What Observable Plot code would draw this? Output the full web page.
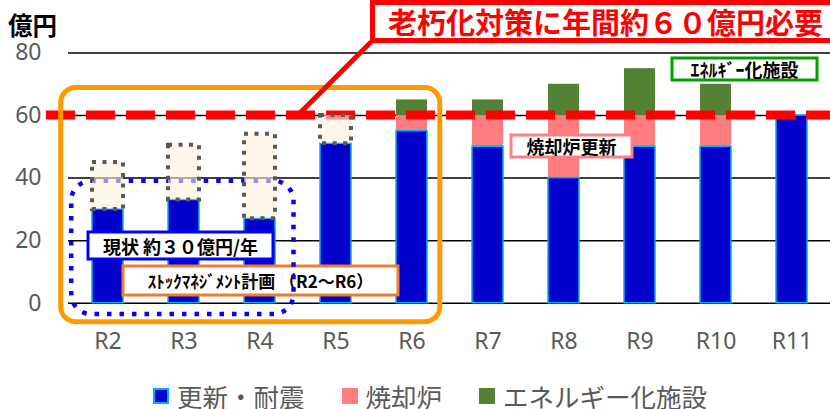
<!DOCTYPE html>
<html><head><meta charset="utf-8">
<script src="https://cdn.jsdelivr.net/npm/d3@7"></script>
<script src="https://cdn.jsdelivr.net/npm/@observablehq/plot@0.6"></script>
<style>
body{margin:0;background:#fff;}
#wrap{position:relative;width:830px;height:409px;overflow:hidden;font-family:"Noto Sans CJK JP","Noto Sans",sans-serif;}
#wrap svg{position:absolute;left:0;top:0;}
#legend{position:absolute;top:383px;left:153px;display:flex;align-items:center;color:#595959;font-size:25.5px;line-height:25px;height:25px;white-space:nowrap;font-family:"Noto Sans CJK JP",sans-serif;}
.item{display:flex;align-items:center;margin-right:37px;}
.sw{width:16px;height:16px;margin-right:8px;box-sizing:border-box;}
</style></head><body><div id="wrap"></div>
<script>
// ---- data ----
const categories = ["R2","R3","R4","R5","R6","R7","R8","R9","R10","R11"];
const renewal     = [30, 33, 27, 51, 55, 50, 40, 50, 50, 60];   // 更新・耐震
const incinerator = [0,  0,  0,  0,  5, 10, 20, 10, 10,  0];    // 焼却炉
const energy      = [0,  0,  0,  0,  5,  5, 10, 15, 10,  0];    // エネルギー化施設
const deferredTop = [45, 50.5, 54, 60, null, null, null, null, null, null]; // dotted boxes
const seriesNames = ["更新・耐震","焼却炉","エネルギー化施設"];
const seriesColors = ["#0000CC","#FF7C80","#548235"];
const yTicks = [0, 20, 40, 60, 80];
const targetLevel = 60;
const yUnit = "億円";
const titleText = "老朽化対策に年間約６０億円必要";
const labelNow = "現状 約３０億円/年";
const labelPlan = "ｽﾄｯｸﾏﾈｼﾞﾒﾝﾄ計画 （R2～R6）";
const labelInc = "焼却炉更新";
const labelEnergy = "ｴﾈﾙｷﾞｰ化施設";

const rows = [];
categories.forEach((c, i) => {
  [renewal, incinerator, energy].forEach((arr, k) => rows.push({cat: c, series: seriesNames[k], value: arr[i]}));
});
const blueRows = categories.map((c, i) => ({cat: c, value: renewal[i]}));
const deferred = categories.map((c, i) => ({cat: c, y1: renewal[i], y2: deferredTop[i]})).filter(d => d.y2 != null);

const chart = Plot.plot({
  width: 830, height: 372,
  marginLeft: 68, marginRight: 0, marginTop: 52, marginBottom: 70,
  style: {fontFamily: '"Noto Sans", sans-serif', fontSize: "23px", color: "#595959", background: "transparent", overflow: "visible"},
  x: {domain: categories, range: [68.1, 831.7], paddingInner: 0.594, paddingOuter: 0.297, label: null},
  y: {domain: [0, 80], range: [302.7, 52.5], label: null},
  color: {domain: seriesNames, range: seriesColors},
  marks: [
    Plot.ruleY(yTicks, {stroke: "#000", strokeWidth: 1.5}),
    Plot.barY(rows, {x: "cat", y: "value", fill: "series"}),
    Plot.barY(blueRows, {x: "cat", y: "value", fill: seriesColors[0], stroke: "#00B0F0", strokeWidth: 1.5}),
    Plot.axisY({ticks: yTicks, tickSize: 0, tickPadding: 27, fontSize: 23, label: null}),
    Plot.axisX({tickSize: 0, tickPadding: 30, fontSize: 23, label: null})
  ]
});
const wrap = document.getElementById("wrap");
wrap.appendChild(chart);

const X = chart.scale("x"), Y = chart.scale("y");
const bw = X.bandwidth;
const svg = d3.select(chart);
const jp = '"Noto Sans CJK JP", sans-serif';

// red dashed target line
svg.append("line").attr("x1", 46).attr("x2", 830)
  .attr("y1", Y.apply(targetLevel)).attr("y2", Y.apply(targetLevel))
  .attr("stroke", "#FF0000").attr("stroke-width", 9).attr("stroke-dasharray", "29 11");

function box(x, y, w, h, stroke, sw, text, fs) {
  const g = svg.append("g");
  g.append("rect").attr("x", x).attr("y", y).attr("width", w).attr("height", h)
    .attr("fill", "#fff").attr("stroke", stroke).attr("stroke-width", sw);
  g.append("text").attr("x", x + w / 2).attr("y", y + h / 2)
    .attr("text-anchor", "middle").attr("dominant-baseline", "central")
    .attr("font-family", jp).attr("font-weight", "bold").attr("font-size", fs)
    .attr("fill", "#000").text(text);
}

// plan label (under blue dotted)
box(123, 266, 275, 29, "#ED7D31", 3, labelPlan, 17);

// orange rounded rect (R2–R6)
const oL = X.apply("R2") - 31.3, oR = X.apply("R6") + bw + 12.8;
svg.append("rect").attr("x", oL).attr("y", Y.apply(targetLevel) - 27.5)
  .attr("width", oR - oL).attr("height", Y.apply(0) + 19 - (Y.apply(targetLevel) - 27.5))
  .attr("rx", 15).attr("fill", "none").attr("stroke", "#FF9900").attr("stroke-width", 5);

// blue dotted rounded rect (R2–R4)
const bL = X.apply("R2") - 20.8, bR = X.apply("R4") + bw + 18.5;
svg.append("rect").attr("x", bL).attr("y", Y.apply(39))
  .attr("width", bR - bL).attr("height", Y.apply(0) + 11.3 - Y.apply(39))
  .attr("rx", 20).attr("fill", "none").attr("stroke", "#0000FF").attr("stroke-width", 4.5)
  .attr("stroke-dasharray", "4.5 8");

// deferred dotted boxes
svg.append("g").selectAll("rect").data(deferred).join("rect")
  .attr("x", d => X.apply(d.cat)).attr("width", bw)
  .attr("y", d => Y.apply(d.y2)).attr("height", d => Y.apply(d.y1) - Y.apply(d.y2))
  .attr("fill", "#FBF0DA").attr("fill-opacity", 0.6)
  .attr("stroke", "#595959").attr("stroke-width", 4).attr("stroke-dasharray", "4 6.5");

// labels
box(88, 232, 185, 27, "#0000FF", 3, labelNow, 18);
box(511, 135, 121, 22, "#FF8080", 3, labelInc, 18);
box(672, 58, 145, 22, "#00A000", 3, labelEnergy, 18);

// callout
svg.append("line").attr("x1", 371).attr("y1", 42).attr("x2", 299).attr("y2", Y.apply(targetLevel) - 1)
  .attr("stroke", "#FF0000").attr("stroke-width", 5);
svg.append("rect").attr("x", 372.5).attr("y", 2.5).attr("width", 470).attr("height", 38)
  .attr("fill", "#fff").attr("stroke", "#FF0000").attr("stroke-width", 5);
svg.append("text").attr("x", 388).attr("y", 21).attr("text-anchor", "start").attr("dominant-baseline", "central")
  .attr("font-family", jp).attr("font-weight", "bold").attr("font-size", 29).attr("fill", "#FF0000")
  .text(titleText);

// unit label
svg.append("text").attr("x", 8).attr("y", 24).attr("text-anchor", "start").attr("dominant-baseline", "central")
  .attr("font-family", jp).attr("font-weight", "bold").attr("font-size", 24.5).attr("fill", "#000")
  .text(yUnit);

// legend
const legend = document.createElement("div");
legend.id = "legend";
seriesNames.forEach((n, i) => {
  const it = document.createElement("div"); it.className = "item";
  const sw = document.createElement("div"); sw.className = "sw";
  sw.style.background = seriesColors[i];
  if (i === 0) sw.style.border = "2px solid #00B0F0";
  const t = document.createElement("span"); t.textContent = n;
  it.appendChild(sw); it.appendChild(t); legend.appendChild(it);
});
wrap.appendChild(legend);
</script></body></html>
